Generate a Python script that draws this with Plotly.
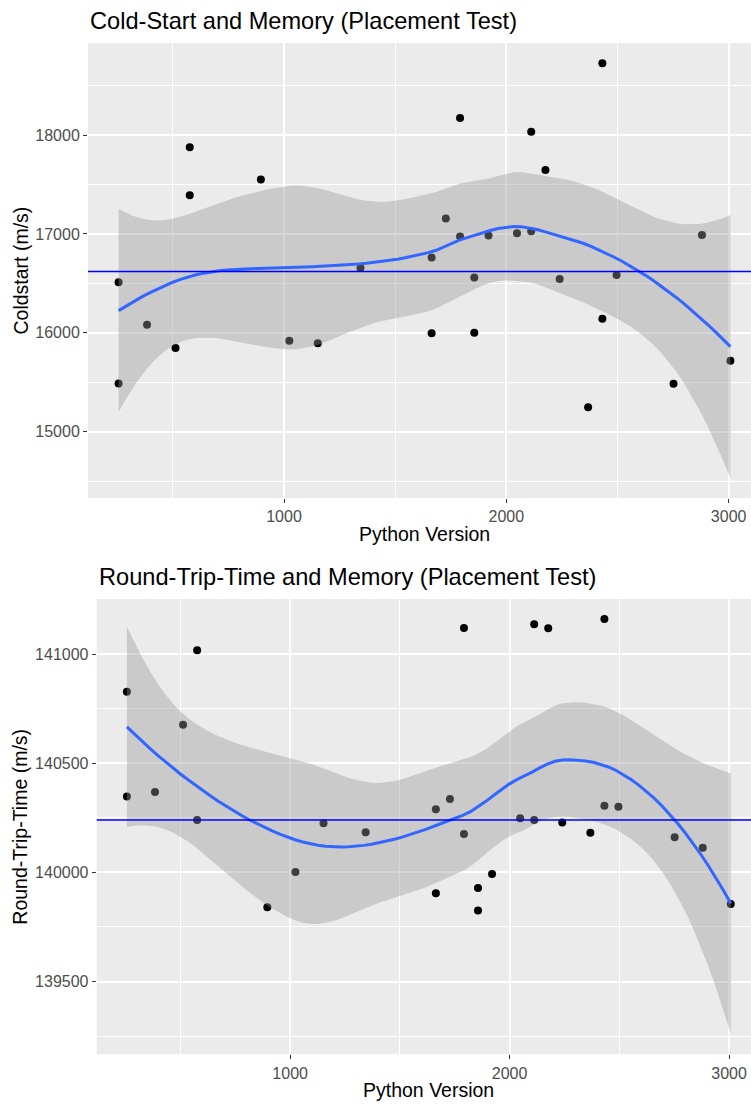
import numpy as np
import plotly.graph_objects as go

# ---------------- data ----------------
memory = [256, 256, 384, 512, 576, 576, 896, 1024, 1152, 1344, 1664, 1664, 1728, 1792, 1792,
          1856, 1856, 1920, 2048, 2112, 2112, 2176, 2240, 2368, 2432, 2432, 2496, 2752, 2880, 3008]
coldstart = [16511, 15487, 16082, 15845, 17878, 17392, 17551, 15920, 15893, 16656, 16761, 15994,
             17156, 18172, 16974, 16558, 16001, 16984, 17007, 18033, 17027, 17648, 16544, 15247,
             18726, 16143, 16585, 15484, 16990, 15717]
rtt = [140827, 140348, 140368, 140676, 141017, 140240, 139840, 140002, 140225, 140184, 140289,
       139904, 140336, 141119, 140176, 139929, 139825, 139993, 140248, 141136, 140240, 141118,
       140228, 140182, 141160, 140305, 140301, 140161, 140113, 139855]

titles = ["Cold-Start and Memory (Placement Test)", "Round-Trip-Time and Memory (Placement Test)"]
ytitles = ["Coldstart (m/s)", "Round-Trip-Time (m/s)"]
xtitle = "Python Version"
x_ticks = [1000, 2000, 3000]
x_minor = [500, 1500, 2500]
y_ticks_top = [15000, 16000, 17000, 18000]
y_minor_top = [14500, 15500, 16500, 17500, 18500]
y_ticks_bot = [139500, 140000, 140500, 141000]
y_minor_bot = [139250, 139750, 140250, 140750, 141250]
y_range_top = [14328, 18932]
y_range_bot = [139167, 141252]


# ---------------- loess (R style: span .75, degree 2, kd-tree interpolation) ----------------
def tquant975(df):
    z = 1.959963985
    g1 = (z**3 + z) / 4
    g2 = (5 * z**5 + 16 * z**3 + 3 * z) / 96
    g3 = (3 * z**7 + 19 * z**5 + 17 * z**3 - 15 * z) / 384
    g4 = (79 * z**9 + 776 * z**7 + 1482 * z**5 - 1920 * z**3 - 945 * z) / 92160
    return z + g1 / df + g2 / df**2 + g3 / df**3 + g4 / df**4


def local_op(x, x0, q):
    n = len(x)
    d = np.abs(x - x0)
    h = np.sort(d)[q - 1]
    u = np.clip(d / h, 0, 1)
    w = (1 - u**3) ** 3
    X = np.vstack([np.ones(n), x - x0, (x - x0) ** 2]).T
    XtW = X.T * w
    A = np.linalg.solve(XtW @ X, XtW)
    return A[0], A[1]


def kd_vertices(xsorted, fc):
    xs = list(xsorted)
    n = len(xs)
    mu = 0.005 * (xs[-1] - xs[0])
    verts = {xs[0] - mu, xs[-1] + mu}

    def split(l, u, vlo, vhi):
        if (u - l + 1) <= fc:
            return
        m = (l + u) // 2
        off = 0
        while l <= m + off < u:
            if xs[m + off] == xs[m + off + 1]:
                off = -off
                if off >= 0:
                    off += 1
            else:
                m = m + off
                break
        t = xs[m]
        if t == vlo or t == vhi:
            return
        verts.add(t)
        split(l, m, vlo, t)
        split(m + 1, u, t, vhi)

    split(0, n - 1, xs[0] - mu, xs[-1] + mu)
    return np.array(sorted(verts))


def hermite_op(verts, vop, sop, xe):
    rows = []
    for v in xe:
        j = np.searchsorted(verts, v, side="right") - 1
        j = min(max(j, 0), len(verts) - 2)
        v0, v1 = verts[j], verts[j + 1]
        dv = v1 - v0
        h = (v - v0) / dv
        phi0 = (1 - h) ** 2 * (1 + 2 * h)
        phi1 = h**2 * (3 - 2 * h)
        psi0 = h * (1 - h) ** 2
        psi1 = -h**2 * (1 - h)
        rows.append(phi0 * vop[j] + phi1 * vop[j + 1] + (psi0 * sop[j] + psi1 * sop[j + 1]) * dv)
    return np.array(rows)


def loess(x, y, xe, span=0.75, cell=0.2):
    x = np.asarray(x, float)
    y = np.asarray(y, float)
    n = len(x)
    q = int(np.floor(n * span + 1e-5))
    fc = int(np.floor(n * span * cell))
    verts = kd_vertices(np.sort(x), fc)
    vop, sop = zip(*[local_op(x, v, q) for v in verts])
    vop, sop = np.array(vop), np.array(sop)
    Li = hermite_op(verts, vop, sop, x)
    IL = np.eye(n) - Li
    M = IL.T @ IL
    d1 = np.trace(M)
    d2 = np.trace(M @ M)
    rss = np.sum((IL @ y) ** 2)
    sigma = np.sqrt(rss / d1)
    t = tquant975(d1**2 / d2)
    R = hermite_op(verts, vop, sop, xe)
    fit = R @ y
    se = sigma * np.sqrt(np.sum(R**2, axis=1))
    return fit, fit - t * se, fit + t * se


xs = np.linspace(min(memory), max(memory), 80)

# ---------------- layout geometry ----------------
W, H = 751, 1104
panels = [
    dict(left=88, top=43, bottom=498, y=coldstart, yr=y_range_top, yt=y_ticks_top, ym=y_minor_top),
    dict(left=96.7, top=599, bottom=1054.3, y=rtt, yr=y_range_bot, yt=y_ticks_bot, ym=y_minor_bot),
]
full_right = 761.0

fig = go.Figure()
font = "Liberation Sans, Arial, Helvetica, sans-serif"
annotations = []

for i, p in enumerate(panels):
    xa = "x" if i == 0 else "x2"
    ya = "y" if i == 0 else "y2"
    fit, lo, hi = loess(memory, p["y"], xs)
    fig.add_trace(go.Scatter(x=memory, y=p["y"], mode="markers", xaxis=xa, yaxis=ya,
                             marker=dict(color="black", size=8, line=dict(width=0)),
                             showlegend=False, hoverinfo="skip"))
    fig.add_trace(go.Scatter(x=np.concatenate([xs, xs[::-1]]), y=np.concatenate([hi, lo[::-1]]),
                             mode="lines", fill="toself", fillcolor="rgba(153,153,153,0.4)",
                             line=dict(width=0), xaxis=xa, yaxis=ya, showlegend=False, hoverinfo="skip"))
    fig.add_trace(go.Scatter(x=xs, y=fit, mode="lines", line=dict(color="#3366FF", width=3),
                             xaxis=xa, yaxis=ya, showlegend=False, hoverinfo="skip"))
    med = float(np.median(p["y"]))
    fig.add_trace(go.Scatter(x=[0, 4000], y=[med, med], mode="lines",
                             line=dict(color="#0000FF", width=1.6),
                             xaxis=xa, yaxis=ya, showlegend=False, hoverinfo="skip"))

    xmin, xmax = min(memory), max(memory)
    ex = 0.05 * (xmax - xmin)
    lo_x, hi_x = xmin - ex, xmax + ex
    frac = (W - p["left"]) / (full_right - p["left"])
    vis_hi = lo_x + frac * (hi_x - lo_x)

    axis_common = dict(showline=False, zeroline=False, ticks="outside", ticklen=4, tickwidth=1.4,
                       tickcolor="#333333", gridcolor="white", gridwidth=1.8, automargin=False,
                       tickfont=dict(family=font, size=16, color="#4D4D4D"))
    xdict = dict(axis_common, domain=[p["left"] / W, 1.0], range=[lo_x, vis_hi], tickvals=x_ticks,
                 ticktext=[str(v) for v in x_ticks],
                 minor=dict(tickvals=x_minor, showgrid=True, gridcolor="white", gridwidth=0.9, ticks=""),
                 anchor=ya)
    ydict = dict(axis_common, domain=[1 - p["bottom"] / H, 1 - p["top"] / H], range=p["yr"],
                 tickvals=p["yt"], ticktext=[str(v) for v in p["yt"]],
                 minor=dict(tickvals=p["ym"], showgrid=True, gridcolor="white", gridwidth=0.9, ticks=""),
                 anchor=xa)
    if i == 0:
        fig.update_layout(xaxis=xdict, yaxis=ydict)
    else:
        fig.update_layout(xaxis2=xdict, yaxis2=ydict)

    fig.add_shape(type="rect", xref="paper", yref="paper", x0=p["left"] / W, x1=1.0,
                  y0=1 - p["bottom"] / H, y1=1 - p["top"] / H, fillcolor="#EBEBEB",
                  line=dict(width=0), layer="below")

    annotations.append(dict(text=titles[i], xref="paper", yref="paper", x=p["left"] / W,
                            y=1 - (p["top"] - 22) / H, xanchor="left", yanchor="middle",
                            showarrow=False, font=dict(family=font, size=23.6, color="black")))
    annotations.append(dict(text=ytitles[i], xref="paper", yref="paper", x=20 / W,
                            y=1 - ((p["top"] + p["bottom"]) / 2) / H, xanchor="center", yanchor="middle",
                            textangle=-90, showarrow=False, font=dict(family=font, size=19.5, color="black")))
    annotations.append(dict(text=xtitle, xref="paper", yref="paper", x=((p["left"] + full_right) / 2) / W,
                            y=1 - (p["bottom"] + 36) / H, xanchor="center", yanchor="middle",
                            showarrow=False, font=dict(family=font, size=19.5, color="black")))

fig.update_layout(width=W, height=H, margin=dict(l=0, r=0, t=0, b=0),
                  paper_bgcolor="white", plot_bgcolor="rgba(0,0,0,0)",
                  annotations=annotations, showlegend=False)

fig.write_html("out.html", config={"displayModeBar": False},
               post_script="document.body.style.margin='0px';")
